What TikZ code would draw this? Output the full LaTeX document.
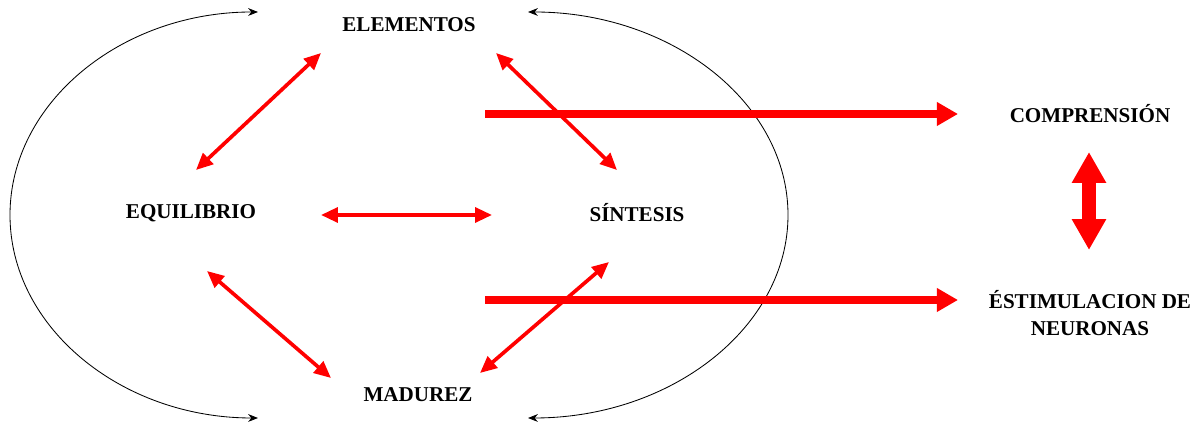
\documentclass[tikz,border=0pt]{standalone}
\usepackage{fontspec}
\setmainfont{Liberation Serif}
\usetikzlibrary{arrows.meta}

\definecolor{arrowcolor}{RGB}{255,0,0}
\definecolor{textcolor}{RGB}{0,0,0}

\tikzset{
    concept/.style={text=textcolor, font=\bfseries\fontsize{15}{19}\selectfont, align=center, inner sep=2pt},
    relation/.style={arrowcolor, line width=2.6pt, {Triangle[length=12pt,width=10.5pt]}-{Triangle[length=12pt,width=10.5pt]}},
    effect/.style={arrowcolor, line width=5pt, -{Triangle[length=15pt,width=16pt]}},
    mutual/.style={arrowcolor, line width=10pt, {Triangle[length=22pt,width=23pt]}-{Triangle[length=22pt,width=23pt]}},
    cyclearc/.style={black, line width=0.6pt, {Stealth[length=7pt,width=5.5pt]}-{Stealth[length=7pt,width=5.5pt]}}
}

\begin{document}
\begin{tikzpicture}
    \useasboundingbox (0,0) rectangle (29.925,10.575);

    % Place the concepts
    \node[concept] (elem) at (10.225,9.95) {ELEMENTOS};
    \node[concept] (equi) at (4.775,5.25) {EQUILIBRIO};
    \node[concept] (sint) at (15.925,5.25) {SÍNTESIS};
    \node[concept] (madu) at (10.45,0.7) {MADUREZ};
    \node[concept] (comp) at (27.25,7.725) {COMPRENSIÓN};
    \node[concept] (esti) at (27.25,2.75) {ÉSTIMULACION DE\\NEURONAS};

    % Draw the outer cycle
    \draw[cyclearc] (6.45,10.275) arc[start angle=90, end angle=270, x radius=6.2cm, y radius=5.075cm];
    \draw[cyclearc] (13.2,10.275) arc[start angle=90, end angle=-90, x radius=6.5cm, y radius=5.075cm];

    % Relations between the four concepts
    \draw[relation] ([shift={(-2.2,-0.7)}]elem.center) -- ([shift={(0.125,1.075)}]equi.center);
    \draw[relation] ([shift={(2.175,-0.7)}]elem.center) -- ([shift={(-0.5,1.075)}]sint.center);
    \draw[relation] ([shift={(3.25,-0.05)}]equi.center) -- ([shift={(-3.625,-0.05)}]sint.center);
    \draw[relation] ([shift={(0.4,-1.45)}]equi.center) -- ([shift={(-2.175,0.425)}]madu.center);
    \draw[relation] ([shift={(-0.7,-1.225)}]sint.center) -- ([shift={(1.55,0.55)}]madu.center);

    % Effects on the right
    \draw[effect] ([shift={(-15.125,0)}]comp.center) -- ([shift={(-3.3,0)}]comp.center);
    \draw[effect] ([shift={(-15.125,0.325)}]esti.center) -- ([shift={(-3.3,0.325)}]esti.center);
    \draw[mutual] ([shift={(-0.025,-0.95)}]comp.center) -- ([shift={(-0.025,1.575)}]esti.center);
\end{tikzpicture}
\end{document}
